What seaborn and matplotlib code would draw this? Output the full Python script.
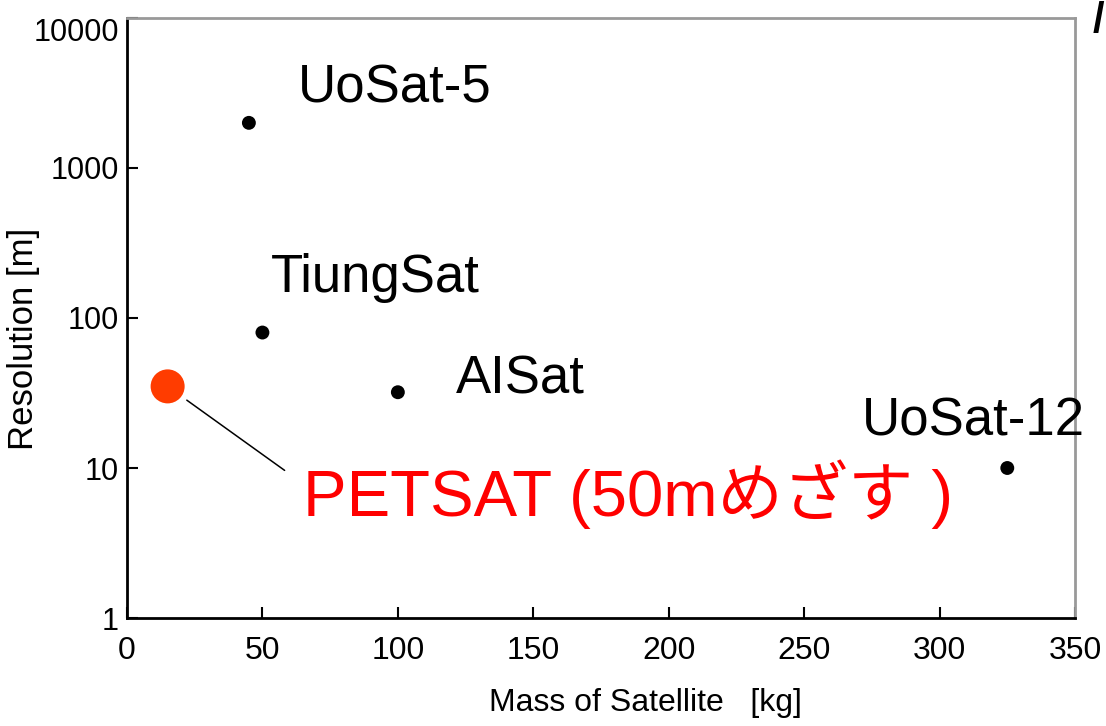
import matplotlib
matplotlib.use("Agg")
import matplotlib.pyplot as plt
import seaborn as sns
import pandas as pd

# ==========================
# Data
# ==========================
names = ["UoSat-5", "TiungSat", "AISat", "UoSat-12"]
mass = [45, 50, 100, 325]
resolution = [2000, 80, 32, 10]

petsat_name = "PETSAT (50mめざす )"
petsat_mass = [15]
petsat_res = [35]

x_ticks = [0, 50, 100, 150, 200, 250, 300, 350]
y_ticks = [1, 10, 100, 1000, 10000]
y_ticklabels = ["1", "10", "100", "1000", "10000"]

# label offsets from each point, in pixels
label_dx = [49, 8, 58, -145]
label_dy = [20, 41, -1, 32]

df = pd.DataFrame({"Mass": mass, "Resolution": resolution, "Name": names})
pet = pd.DataFrame({"Mass": petsat_mass, "Resolution": petsat_res})

# ==========================
# Style
# ==========================
sns.set_style("ticks")
plt.rcParams["font.family"] = ["Liberation Sans", "Noto Sans CJK JP", "DejaVu Sans"]
plt.rcParams["text.color"] = "black"
plt.rcParams["axes.labelcolor"] = "black"
plt.rcParams["xtick.color"] = "black"
plt.rcParams["ytick.color"] = "black"

fig = plt.figure(figsize=(11.06, 7.26), dpi=100)
ax = fig.add_axes([127 / 1106, 108 / 726, 948 / 1106, 600 / 726])

# ==========================
# Points
# ==========================
sns.scatterplot(data=df, x="Mass", y="Resolution", ax=ax,
                color="black", s=100, edgecolor="none", zorder=3)
sns.scatterplot(data=pet, x="Mass", y="Resolution", ax=ax,
                color="#FF3C00", s=600, edgecolor="none", zorder=3)

ax.set_yscale("log")
ax.set_xlim(0, 350)
ax.set_ylim(1, 10000)

# ==========================
# Labels
# ==========================
for i in range(len(names)):
    ax.annotate(names[i], xy=(mass[i], resolution[i]),
                xytext=(label_dx[i], label_dy[i]), textcoords="offset pixels",
                ha="left", va="baseline", fontsize=38, color="black")

ax.annotate(petsat_name, xy=(petsat_mass[0], petsat_res[0]),
            xytext=(135, -130), textcoords="offset pixels",
            ha="left", va="baseline", fontsize=47, color="#FF0000")

ax.annotate("", xy=(petsat_mass[0], petsat_res[0]),
            xytext=(117, -84), textcoords="offset pixels",
            arrowprops=dict(arrowstyle="-", color="black", lw=1.1,
                            shrinkA=0, shrinkB=17))

# ==========================
# Axes
# ==========================
ax.set_xticks(x_ticks)
ax.set_xticklabels([str(v) for v in x_ticks])
ax.set_yticks(y_ticks)
ax.set_yticklabels(y_ticklabels)
ax.yaxis.set_minor_locator(matplotlib.ticker.NullLocator())

ax.tick_params(axis="x", direction="in", length=8, width=1.5,
               labelsize=23, pad=13, top=False, colors="black")
ax.tick_params(axis="y", direction="in", length=8, width=1.5,
               labelsize=22, pad=6, right=False, colors="black")
ax.get_yticklabels()[-1].set_va("top")

ax.set_xlabel("Mass of Satellite   [kg]", fontsize=23, color="black")
ax.set_ylabel("Resolution [m]", fontsize=25, color="black")
ax.xaxis.set_label_coords(0.547, -0.117)
ax.yaxis.set_label_coords(-0.092, 0.465)

for side in ["left", "bottom"]:
    ax.spines[side].set_color("black")
    ax.spines[side].set_linewidth(2)
for side in ["top", "right"]:
    ax.spines[side].set_visible(True)
    ax.spines[side].set_color("#999999")
    ax.spines[side].set_linewidth(2)

# stroke fragment at the top-right corner of the slide
fig.text(1104 / 1106, 1 - 1 / 726, "/", fontsize=30, fontweight="bold",
         color="black", ha="right", va="top")

fig.savefig("out.png", dpi=100)
